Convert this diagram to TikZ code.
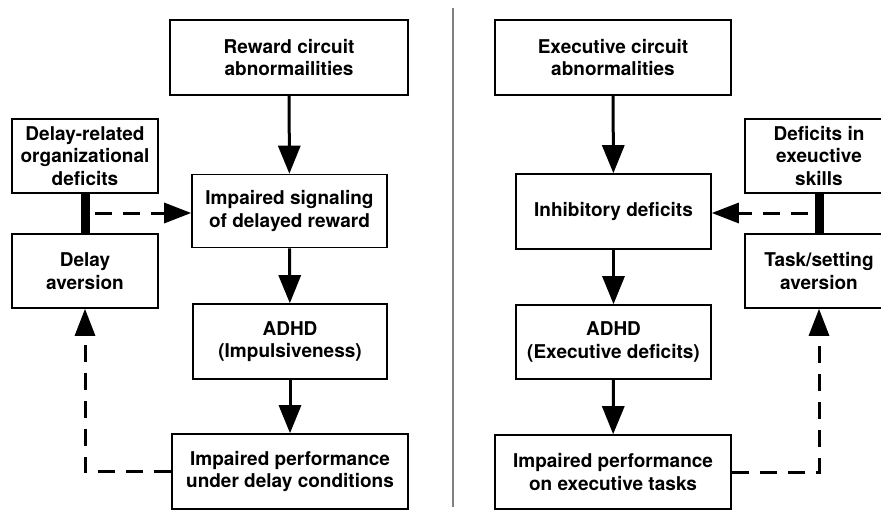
\documentclass[tikz,border=0pt]{standalone}
\usepackage{fontspec}
\setmainfont{TeX Gyre Heros}
\usetikzlibrary{arrows.meta}
\begin{document}
\begin{tikzpicture}[x=1pt,y=-1pt,
  box/.style={draw=black,line width=1.6pt,fill=white,align=center,inner sep=0pt,
    font=\fontsize{19}{22.5}\selectfont\bfseries},
  flow/.style={line width=3pt,-{Triangle[length=28pt,width=22pt]}},
  dflow/.style={line width=3pt,dash pattern=on 17pt off 11pt,-{Triangle[length=27pt,width=20pt]}},
  bar/.style={line width=9pt}]
\useasboundingbox (0,0) rectangle (881,527);
\fill[white] (0,0) rectangle (881,527);
% divider
\draw[line width=1.8pt,color={rgb,255:red,128;green,128;blue,128}] (453,8) -- (453,507);
% left column
\node[box,minimum width=238pt,minimum height=75pt] (rew) at (289,57.5) {Reward circuit\\abnormailities};
\node[box,minimum width=195pt,minimum height=73pt] (sig) at (289.5,211) {Impaired signaling\\of delayed reward};
\node[box,minimum width=194pt,minimum height=75pt] (adhdL) at (290,341.5) {ADHD\\(Impulsiveness)};
\node[box,minimum width=236pt,minimum height=75pt] (perfL) at (290,471.5) {Impaired performance\\under delay conditions};
\node[box,minimum width=146pt,minimum height=74pt] (drel) at (85,156) {Delay-related\\organizational\\deficits};
\node[box,minimum width=146pt,minimum height=74pt] (dav) at (85,271) {Delay\\aversion};
% right column
\node[box,minimum width=236pt,minimum height=75pt] (exe) at (613,57.5) {Executive circuit\\abnormalities};
\node[box,minimum width=195pt,minimum height=75pt] (inh) at (613.5,211.5) {Inhibitory deficits};
\node[box,minimum width=195pt,minimum height=74pt] (adhdR) at (613.5,342) {ADHD\\(Executive deficits)};
\node[box,minimum width=236pt,minimum height=74pt] (perfR) at (613,472) {Impaired performance\\on executive tasks};
\node[box,minimum width=148pt,minimum height=74pt] (dex) at (819,156) {Deficits in\\exeuctive\\skills};
\node[box,minimum width=148pt,minimum height=74pt] (tav) at (819,271) {Task/setting\\aversion};
% coordinates
\coordinate (sL) at (95,213);
\coordinate (sR) at (808,213);
% left connectors
\draw[flow] (rew) -- (sig);
\draw[flow] (sig) -- (adhdL);
\draw[flow] (adhdL) -- (perfL);
\draw[bar] (drel.south) -- (dav.north);
\draw[dflow] (sL) -- (sig.west |- sL);
\draw[dflow] (perfL.west) -| (dav.south);
% right connectors
\draw[flow] (exe) -- (inh);
\draw[flow] (inh) -- (adhdR);
\draw[flow] (adhdR) -- (perfR);
\draw[bar] (dex.south) -- (tav.north);
\draw[dflow] (sR) -- (inh.east |- sR);
\draw[dflow] (perfR.east) -| (tav.south);
\end{tikzpicture}
\end{document}
